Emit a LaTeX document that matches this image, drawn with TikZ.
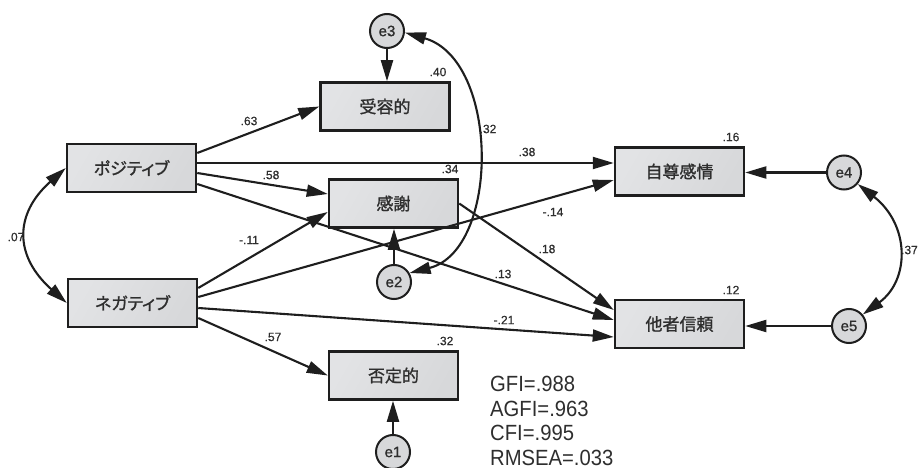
\documentclass[tikz,border=0pt]{standalone}
\usepackage{fontspec}
\setmainfont{Liberation Sans}
\newfontfamily\jpfont[FakeBold=1.2]{Noto Sans CJK JP}
\newfontfamily\jpkana[RawFeature=+palt, FakeBold=1.2]{Noto Sans CJK JP}
\newfontfamily\errfont[FakeBold=1]{Liberation Sans}
\newfontfamily\coeffont[FakeBold=0.6]{Liberation Sans}
\newfontfamily\fitfont[FakeStretch=0.92]{Liberation Sans}
\usetikzlibrary{arrows.meta}
\definecolor{linec}{HTML}{1E1E1E}
\definecolor{boxfill}{HTML}{D7D8DA}
\definecolor{boxlight}{HTML}{E2E3E5}
\definecolor{txtc}{HTML}{2E2E2E}
\tikzset{
  varbox/.style={draw=linec, line width=2.5pt, left color=boxlight, right color=boxfill,
    shading angle=60, minimum width=129pt,
    minimum height=48pt, inner sep=0pt, text=txtc, font=\jpfont\fontsize{17}{20}\selectfont},
  kanabox/.style={varbox, font=\jpkana\fontsize{17}{20}\selectfont},
  errnode/.style={circle, draw=linec, line width=2pt, fill=boxfill, minimum size=34pt,
    inner sep=0pt, text=txtc, font=\errfont\fontsize{15}{17}\selectfont},
  regpath/.style={draw=linec, line width=2.1pt, -{Triangle[length=21pt,width=12pt]}},
  covar/.style={draw=linec, line width=2.1pt,
    {Triangle[length=21pt,width=12pt]}-{Triangle[length=21pt,width=12pt]}},
  coef/.style={text=txtc, inner sep=0pt, font=\coeffont\fontsize{12}{14}\selectfont},
  fitline/.style={anchor=base west, inner sep=0pt, text=txtc, font=\fitfont\fontsize{22}{25}\selectfont}
}
\begin{document}
\begin{tikzpicture}[x=1pt, y=-1pt]
\useasboundingbox (0,0) rectangle (919,468);

% observed variables
\node[kanabox] (pos) at (131.5,168) {ポジティブ};
\node[kanabox] (neg) at (132.5,303) {ネガティブ};
\node[varbox]  (acc) at (385,106.5) {受容的};
\node[varbox]  (kan) at (393.5,203.5) {感謝};
\node[varbox]  (hi)  at (393.5,375.5) {否定的};
\node[varbox]  (se)  at (679.5,171.5) {自尊感情};
\node[varbox]  (ot)  at (679.5,324) {他者信頼};

% error terms
\node[errnode] (e3) at (387,31) {e3};
\node[errnode] (e2) at (394,282) {e2};
\node[errnode] (e1) at (393,452) {e1};
\node[errnode] (e4) at (844,172.5) {e4};
\node[errnode] (e5) at (849,326) {e5};

% paths
\draw[regpath] ([yshift=15pt]pos.east) -- (acc.west);
\draw[regpath] ([yshift=5pt]pos.east) -- ([yshift=8.5pt]se.west);
\draw[regpath] ([yshift=-5pt]pos.east) -- ([yshift=9.5pt]kan.west);
\draw[regpath] ([yshift=-16pt]pos.east) -- ([yshift=4pt]ot.west);
\draw[regpath] ([yshift=15pt]neg.east) -- ([yshift=-8.5pt]kan.west);
\draw[regpath] ([yshift=6pt]neg.east) -- ([yshift=-8.5pt]se.west);
\draw[regpath] ([yshift=-5pt]neg.east) -- ([yshift=-13pt]ot.west);
\draw[regpath] ([yshift=-15pt]neg.east) -- (hi.west);
\draw[regpath] (kan.east) -- ([yshift=14pt]ot.west);

% error paths
\draw[regpath] (e3.south) -- (e3.south |- acc.north);
\draw[regpath] (e2.north) -- (e2.north |- kan.south);
\draw[regpath] (e1.north) -- (e1.north |- hi.south);
\draw[regpath] (e4.west) -- (e4.west -| se.east);
\draw[regpath] (e5.west) -- (e5.west -| ot.east);

% covariances
\draw[covar] (pos.west) .. controls (14,214) and (14,256) .. (neg.west);
\draw[covar] (e3.-5) .. controls (500,60) and (500,250) .. (e2.30);
\draw[covar] (e4.-40) .. controls (910,225) and (910,280) .. (e5.40);

% coefficients
\node[coef] (c63) at (249,121) {.63};
\node[coef] (c40) at (438,72) {.40};
\node[coef] (c32a) at (488,129) {.32};
\node[coef] (c58) at (271,175) {.58};
\node[coef] (c34) at (450,169) {.34};
\node[coef] (c38) at (527,152) {.38};
\node[coef] (c16) at (731,137) {.16};
\node[coef] (c14) at (553,212) {-.14};
\node[coef] (c11) at (249,240) {-.11};
\node[coef] (c07) at (16,237) {.07};
\node[coef] (c18) at (547,249) {.18};
\node[coef] (c13) at (503,274) {.13};
\node[coef] (c21) at (504,320) {-.21};
\node[coef] (c12) at (731,290) {.12};
\node[coef] (c57) at (273,337) {.57};
\node[coef] (c32b) at (445,341) {.32};
\node[coef, anchor=east] (c37) at (918,250) {.37};

% fit indices
\node[fitline] (gfi) at (490,391.5) {GFI=.988};
\node[fitline] (agfi) at (490,416) {AGFI=.963};
\node[fitline] (cfi) at (490,440.5) {CFI=.995};
\node[fitline] (rmsea) at (490,465) {RMSEA=.033};
\end{tikzpicture}
\end{document}
